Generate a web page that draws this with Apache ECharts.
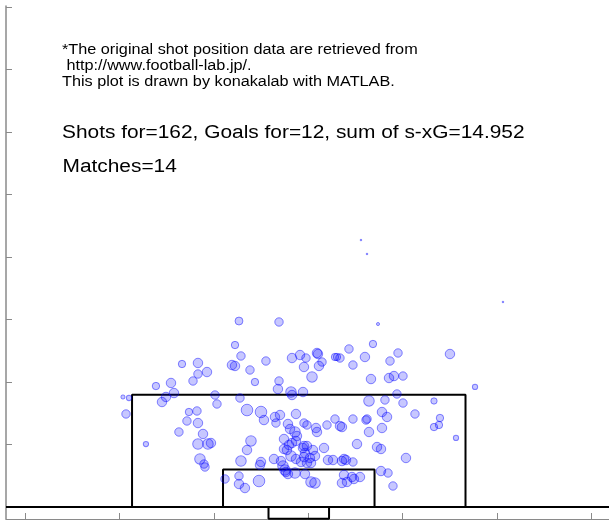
<!DOCTYPE html>
<html>
<head>
<meta charset="utf-8">
<script src="https://cdn.jsdelivr.net/npm/echarts@6/dist/echarts.min.js"></script>
<style>
html,body{margin:0;padding:0;background:#fff;}
#chart{width:609px;height:520px;}
</style>
</head>
<body>
<div id="chart"></div>
<script>
// Shot positions in metres: x from goal centre (right positive), y from goal line (up the pitch)
const shotX = [7.52, 8.25, 24.69, 9.58, -7.23, -2.39, -7.71, -6.99, -14.12, -12.19, -12.19, -11.10, -8.08, -7.71, -5.90, -3.97, -0.82, 0.15, 0.87, 2.20, 2.32, 2.81, 2.44, 0.63, 4.38, 4.62, 4.98, 6.07, 8.00, 6.55, 8.97, 12.00, 11.03, 18.28, -17.27, -15.45, -15.09, -12.79, -5.30, -2.39, -2.52, -0.94, -0.82, 0.51, 1.60, 8.73, 10.91, 11.51, 12.60, 21.31, 11.87, -21.26, -20.53, -10.13, -16.06, -16.54, -20.89, -9.89, -7.11, -6.26, -4.57, -2.27, -13.28, -12.31, -13.52, -12.19, -4.21, -2.88, -2.76, -0.34, 0.63, 0.99, 8.49, 10.42, 12.60, 16.35, 10.06, 14.05, 10.67, 4.38, 6.55, 8.13, 8.25, 17.07, -14.49, -11.58, -12.19, -10.98, -10.62, -11.95, -11.46, -11.34, -5.78, -6.26, -6.99, -4.57, -4.69, -8.92, -7.23, -7.23, -6.51, -4.81, -18.48, 19.01, -3.00, -1.79, -1.19, -0.82, -0.34, -0.94, -0.34, 0.27, 0.99, 1.48, 0.63, 1.96, 0.63, 0.75, -2.15, -1.91, -1.67, -1.55, -1.31, -0.46, 0.75, 1.48, 1.96, 3.05, 3.53, 5.22, 5.47, 5.71, 6.55, 5.47, 6.43, 6.67, 7.40, 5.22, 5.83, 7.04, 9.46, 9.94, 9.94, 10.79, 11.39, 12.96, -1.31, -1.06, -0.46, -0.22, -1.43, 0.51, 0.99, -1.79, 2.08, 2.20, 3.41, 4.98, 5.22, 8.49, 10.06, 16.95, 16.35, 4.14, 1.72, 1.35];
const shotY = [39.26, 37.21, 30.15, 26.91, 27.35, 27.21, 23.82, 22.21, 21.03, 21.18, 19.56, 19.85, 20.88, 20.74, 20.15, 21.47, 21.91, 22.35, 21.91, 22.65, 22.50, 21.32, 20.74, 20.59, 22.06, 22.06, 21.91, 23.24, 22.06, 20.88, 23.97, 22.65, 21.47, 22.50, 17.79, 18.24, 16.76, 18.53, 18.38, 18.53, 17.35, 16.91, 16.47, 16.91, 19.12, 18.82, 18.97, 19.26, 19.26, 17.65, 16.62, 16.18, 16.03, 16.47, 16.18, 15.44, 13.68, 15.15, 16.03, 14.26, 13.97, 13.53, 13.97, 14.12, 12.65, 12.35, 12.79, 13.24, 12.35, 13.68, 12.35, 12.06, 15.59, 15.74, 15.29, 15.59, 13.97, 13.68, 13.24, 12.94, 12.94, 12.79, 12.94, 13.09, 11.03, 10.74, 9.26, 9.26, 9.41, 7.06, 6.32, 5.88, 9.71, 8.38, 6.76, 6.62, 6.18, 4.12, 4.56, 3.38, 2.79, 3.82, 9.26, 10.15, 7.06, 8.53, 9.12, 9.41, 9.71, 7.50, 7.06, 6.62, 6.47, 6.47, 7.35, 7.50, 8.97, 7.94, 6.76, 6.03, 5.44, 5.15, 4.85, 5.00, 4.85, 3.68, 3.53, 8.68, 6.91, 6.76, 7.06, 6.91, 6.62, 4.71, 4.41, 4.12, 4.41, 3.53, 3.68, 9.26, 8.82, 8.53, 5.29, 5.00, 3.09, 7.21, 12.21, 11.47, 11.03, 10.44, 8.38, 8.68, 8.97, 10.00, 11.62, 11.03, 12.06, 11.91, 11.76, 11.03, 11.62, 12.06, 11.76, 6.91, 8.38, 7.21];
const shotXG = [0.003, 0.003, 0.003, 0.011, 0.072, 0.082, 0.063, 0.082, 0.063, 0.103, 0.082, 0.103, 0.103, 0.103, 0.082, 0.082, 0.103, 0.103, 0.082, 0.103, 0.103, 0.082, 0.103, 0.103, 0.063, 0.063, 0.082, 0.082, 0.103, 0.082, 0.063, 0.082, 0.082, 0.103, 0.063, 0.103, 0.103, 0.082, 0.063, 0.082, 0.103, 0.128, 0.103, 0.103, 0.128, 0.103, 0.103, 0.103, 0.082, 0.032, 0.082, 0.020, 0.032, 0.082, 0.103, 0.103, 0.082, 0.082, 0.082, 0.154, 0.154, 0.103, 0.063, 0.082, 0.082, 0.103, 0.103, 0.103, 0.082, 0.103, 0.082, 0.082, 0.128, 0.082, 0.082, 0.046, 0.103, 0.082, 0.103, 0.082, 0.082, 0.082, 0.082, 0.063, 0.082, 0.103, 0.128, 0.128, 0.103, 0.128, 0.082, 0.082, 0.128, 0.103, 0.128, 0.103, 0.103, 0.082, 0.082, 0.103, 0.103, 0.154, 0.032, 0.032, 0.103, 0.103, 0.103, 0.103, 0.103, 0.128, 0.103, 0.103, 0.103, 0.103, 0.103, 0.103, 0.103, 0.103, 0.103, 0.128, 0.128, 0.103, 0.103, 0.128, 0.103, 0.128, 0.128, 0.103, 0.103, 0.103, 0.103, 0.103, 0.082, 0.103, 0.103, 0.103, 0.103, 0.103, 0.103, 0.103, 0.103, 0.103, 0.103, 0.082, 0.082, 0.103, 0.103, 0.103, 0.128, 0.103, 0.103, 0.103, 0.103, 0.103, 0.103, 0.103, 0.082, 0.103, 0.103, 0.103, 0.103, 0.063, 0.063, 0.103, 0.103, 0.103];

// Pitch dimensions (metres)
const boxHalfWidth = 20.16, boxDepth = 16.5;
const sixHalfWidth = 9.16, sixDepth = 5.5;
const goalHalfWidth = 3.66, goalDepth = -1.72;
const xRange = [-35.40, 37.51];
const yRange = [-1.765, 73.68];
const xTickValues = [-33.11, -21.68, -10.25, 1.15, 12.56, 23.97, 35.39];
const yTickValues = [0, 9.19, 18.38, 27.57, 36.76, 45.96, 55.15, 64.34, 73.53];

const noteLines = [
  '*The original shot position data are retrieved from',
  ' http://www.football-lab.jp/.',
  'This plot is drawn by konakalab with MATLAB.'
];
const summaryText = 'Shots for=162, Goals for=12, sum of s-xG=14.952';
const matchesText = 'Matches=14';

const shots = [];
for (let i = 0; i < Math.min(shotX.length, shotY.length, shotXG.length); i++) {
  shots.push([shotX[i], shotY[i], shotXG[i]]);
}

const penaltyBox = [[-boxHalfWidth, 0], [-boxHalfWidth, boxDepth], [boxHalfWidth, boxDepth], [boxHalfWidth, 0]];
const sixBox = [[-sixHalfWidth, 0], [-sixHalfWidth, sixDepth], [sixHalfWidth, sixDepth], [sixHalfWidth, 0]];
const goal = [[-goalHalfWidth, 0], [-goalHalfWidth, goalDepth], [goalHalfWidth, goalDepth], [goalHalfWidth, 0]];
const goalLine = [[xRange[0], 0], [xRange[1], 0]];

const lineStyle = { color: '#000', width: 2 };
function pitchLine(data) {
  return {
    type: 'line', data: data, symbol: 'none', clip: false,
    lineStyle: lineStyle, z: 1, silent: true, animation: false
  };
}

const axisGray = '#8a8a8a';
const chart = echarts.init(document.getElementById('chart'), null, { renderer: 'canvas' });
const textFont = '"Liberation Sans", Arial, sans-serif';
const stretch = 1.16;

chart.setOption({
  animation: false,
  backgroundColor: '#fff',
  grid: { left: 6, top: 6, right: 0, bottom: 1, containLabel: false },
  xAxis: {
    type: 'value', min: xRange[0], max: xRange[1],
    axisLine: { show: true, onZero: false, lineStyle: { color: axisGray, width: 1 } },
    axisTick: { show: true, inside: true, length: 6, customValues: xTickValues, lineStyle: { color: axisGray } },
    axisLabel: { show: false },
    splitLine: { show: false }
  },
  yAxis: {
    type: 'value', min: yRange[0], max: yRange[1],
    axisLine: { show: true, onZero: false, lineStyle: { color: axisGray, width: 1.5 } },
    axisTick: { show: true, inside: true, length: 6, customValues: yTickValues, lineStyle: { color: axisGray } },
    axisLabel: { show: false },
    splitLine: { show: false }
  },
  series: [
    pitchLine(goalLine),
    pitchLine(penaltyBox),
    pitchLine(sixBox),
    pitchLine(goal),
    {
      type: 'scatter',
      data: shots,
      z: 2,
      symbol: 'circle',
      symbolSize: function (v) { return 29.5 * Math.sqrt(v[2]); },
      itemStyle: {
        color: 'rgba(0,0,255,0.22)',
        borderColor: 'rgba(0,0,255,0.45)',
        borderWidth: 1,
        opacity: 1
      }
    }
  ],
  graphic: [
    { type: 'text', x: 62, y: 50.5, scaleX: stretch, style: { text: noteLines[0], font: '14px ' + textFont, fill: '#000', textVerticalAlign: 'middle' } },
    { type: 'text', x: 62, y: 66.5, scaleX: stretch, style: { text: noteLines[1], font: '14px ' + textFont, fill: '#000', textVerticalAlign: 'middle' } },
    { type: 'text', x: 62, y: 82.5, scaleX: stretch, style: { text: noteLines[2], font: '14px ' + textFont, fill: '#000', textVerticalAlign: 'middle' } },
    { type: 'text', x: 62, y: 133, scaleX: stretch, style: { text: summaryText, font: '18px ' + textFont, fill: '#000', textVerticalAlign: 'middle' } },
    { type: 'text', x: 62.5, y: 167, scaleX: stretch, style: { text: matchesText, font: '18px ' + textFont, fill: '#000', textVerticalAlign: 'middle' } }
  ]
});
</script>
</body>
</html>
